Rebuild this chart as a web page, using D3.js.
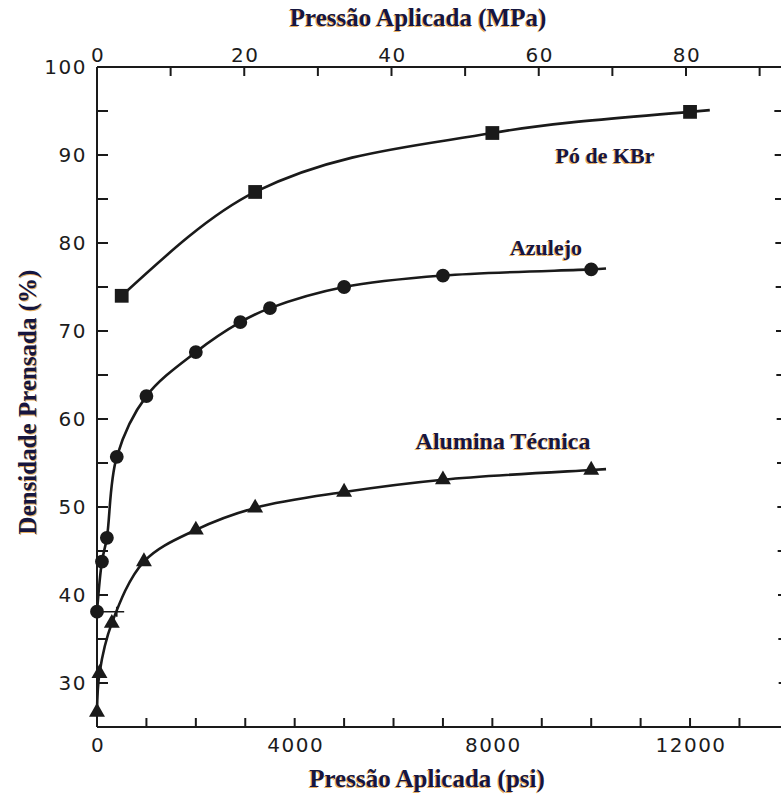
<!DOCTYPE html>
<html>
<head>
<meta charset="utf-8">
<script src="https://cdn.jsdelivr.net/npm/d3@7"></script>
<style>
  body { margin: 0; background: #fff; }
  .num { font-family: "DejaVu Sans", sans-serif; font-size: 20px; fill: #1c1c1c; letter-spacing: 1.5px; }
  .ttl { font-family: "Liberation Serif", "Times New Roman", serif; font-weight: bold; }
</style>
</head>
<body>
<svg id="chart" width="781" height="796"></svg>
<script>
// pressure in psi, pressed density in %
var kbrPsi = [500, 3200, 8000, 12000];
var kbrDens = [74.0, 85.8, 92.5, 94.9];

var azulejoPsi = [0, 100, 200, 400, 1000, 2000, 2900, 3500, 5000, 7000, 10000];
var azulejoDens = [38.1, 43.8, 46.5, 55.7, 62.6, 67.6, 71.0, 72.6, 75.0, 76.3, 77.0];

var aluminaPsi = [0, 50, 300, 950, 2000, 3200, 5000, 7000, 10000];
var aluminaDens = [26.7, 31.1, 36.8, 43.8, 47.4, 49.9, 51.7, 53.1, 54.2];

// where each drawn curve stops, a little past its last marker
var lineEndPsi = [12400, 10300, 10300];
var lineEndDens = [95.1, 77.1, 54.3];

var seriesNames = ["Pó de KBr", "Azulejo", "Alumina Técnica"];

var psiTicks = [0, 4000, 8000, 12000];
var mpaTicks = [0, 20, 40, 60, 80];
var densTicks = [30, 40, 50, 60, 70, 80, 90, 100];

var svg = d3.select("#chart");

// scales (the scanned figure runs off the right edge)
var x = d3.scaleLinear().domain([0, 14000]).range([97, 97 + 14000 * 0.04942]);
var xTop = d3.scaleLinear().domain([0, 80]).range([97, 686]);
var y = d3.scaleLinear().domain([25, 100]).range([727, 67]);

var ink = "#1a1a1a";

// ---- axes
var gAxes = svg.append("g").attr("stroke", ink).attr("stroke-width", 2);

// left axis
gAxes.append("line").attr("x1", 97).attr("x2", 97).attr("y1", y(100)).attr("y2", y(25));
gAxes.selectAll(".ly").data(d3.range(30, 100, 5)).enter().append("line")
  .attr("x1", 97).attr("x2", 108)
  .attr("y1", function(d){ return y(d) }).attr("y2", function(d){ return y(d) });

// bottom axis
gAxes.append("line").attr("x1", 97).attr("x2", 781).attr("y1", y(25)).attr("y2", y(25));
gAxes.selectAll(".bx").data(d3.range(1000, 14000, 1000)).enter().append("line")
  .attr("x1", function(d){ return x(d) }).attr("x2", function(d){ return x(d) })
  .attr("y1", y(25)).attr("y2", y(25) - 9);

// top axis
gAxes.append("line").attr("x1", 97).attr("x2", 781).attr("y1", y(100)).attr("y2", y(100));
gAxes.selectAll(".tx").data(d3.range(10, 100, 10)).enter().append("line")
  .attr("x1", function(d){ return xTop(d) }).attr("x2", function(d){ return xTop(d) })
  .attr("y1", y(100)).attr("y2", y(100) + 9);

// right axis sits just outside the frame, slightly skewed; only tick ends show
var rx = d3.scaleLinear().domain([100, 25]).range([783, 788]);
gAxes.selectAll(".ry").data(d3.range(30, 100, 5)).enter().append("line")
  .attr("x1", function(d){ return rx(d) }).attr("x2", function(d){ return rx(d) - 9 })
  .attr("y1", function(d){ return y(d) }).attr("y2", function(d){ return y(d) });

// tick labels
svg.selectAll(".yl").data(densTicks).enter().append("text")
  .attr("class", "num")
  .attr("x", 87).attr("y", function(d){ return y(d) + 7 })
  .attr("text-anchor", "end")
  .text(function(d){ return d });

svg.selectAll(".xl").data(psiTicks).enter().append("text")
  .attr("class", "num")
  .attr("x", function(d){ return x(d) + 1 }).attr("y", 752)
  .attr("text-anchor", "middle")
  .text(function(d){ return d });

svg.selectAll(".tl").data(mpaTicks).enter().append("text")
  .attr("class", "num")
  .attr("x", function(d){ return xTop(d) + 1 }).attr("y", 62)
  .attr("text-anchor", "middle")
  .text(function(d){ return d });

// serif titles with the orange fringe of the original
function title(px, py, txt, size, rot) {
  var g = svg.append("g").attr("transform", "translate(" + px + "," + py + ")" + (rot ? " rotate(" + rot + ")" : ""));
  g.append("text").attr("class", "ttl").attr("x", -1).attr("y", 1)
    .attr("text-anchor", "middle").attr("font-size", size)
    .attr("fill", "#e0952e").attr("opacity", 0.75).text(txt);
  g.append("text").attr("class", "ttl")
    .attr("text-anchor", "middle").attr("font-size", size)
    .attr("fill", "#16163f").text(txt);
}
title(418, 26, "Pressão Aplicada (MPa)", 25);
title(427, 787, "Pressão Aplicada (psi)", 25);
title(36, 402, "Densidade Prensada (%)", 25, -90);

// ---- curves and markers
var series = [
  { psi: kbrPsi, dens: kbrDens, sym: d3.symbolSquare, size: 190, curve: d3.curveMonotoneX },
  { psi: azulejoPsi, dens: azulejoDens, sym: d3.symbolCircle, size: 150, curve: d3.curveCatmullRom.alpha(0.5) },
  { psi: aluminaPsi, dens: aluminaDens, sym: d3.symbolTriangle, size: 110, curve: d3.curveCatmullRom.alpha(0.5) }
];

series.forEach(function(s, i){
  var pts = s.psi.map(function(p, j){ return [p, s.dens[j]] });
  var line = d3.line()
    .x(function(d){ return x(d[0]) })
    .y(function(d){ return y(d[1]) })
    .curve(s.curve);

  svg.append("path")
    .datum(pts.concat([[lineEndPsi[i], lineEndDens[i]]]))
    .attr("fill", "none")
    .attr("stroke", ink)
    .attr("stroke-width", 2.6)
    .attr("d", line);

  svg.selectAll(".m" + i).data(pts).enter().append("path")
    .attr("transform", function(d){ return "translate(" + x(d[0]) + "," + y(d[1]) + ")" })
    .attr("d", d3.symbol().type(s.sym).size(s.size))
    .attr("fill", ink);
});

// small stray mark next to the first Azulejo point
svg.append("path")
  .attr("d", "M" + x(0) + "," + y(38.1) + "H" + x(550) + "M" + x(400) + "," + (y(38.1) - 5) + "V" + (y(38.1) + 5))
  .attr("stroke", ink).attr("stroke-width", 1.6).attr("fill", "none");

// series labels
title(605, 163, seriesNames[0], 22);
title(546, 255, seriesNames[1], 22);
title(503, 449, seriesNames[2], 24);
</script>
</body>
</html>
